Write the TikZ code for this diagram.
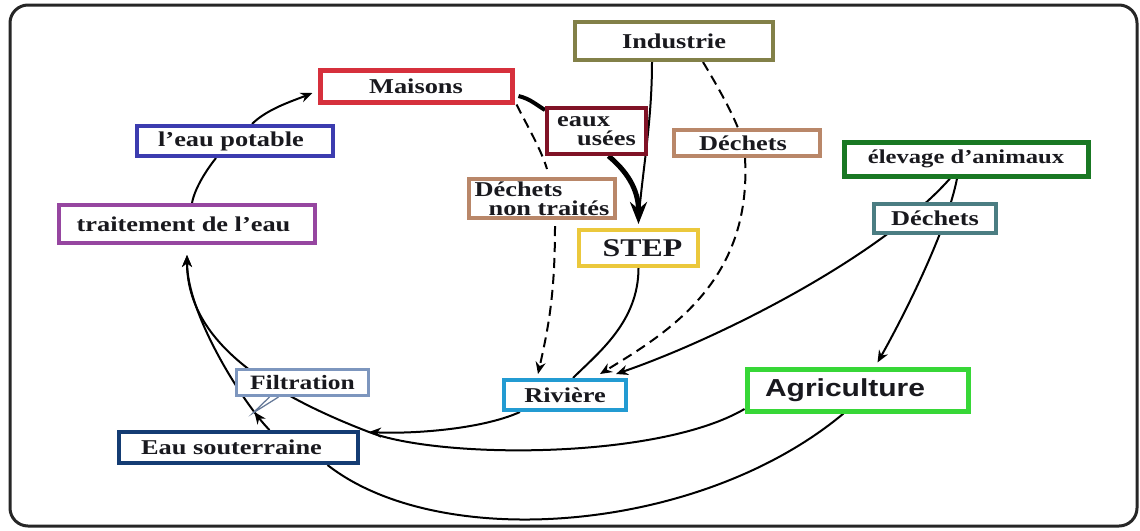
\documentclass[tikz,border=0pt]{standalone}
\usepackage{fontspec}
\setmainfont{Liberation Serif}[FakeStretch=1.25]
\newfontfamily\agrifont{Liberation Sans}[FakeStretch=1.22]
\usetikzlibrary{arrows.meta,calc,backgrounds,decorations.markings}
\definecolor{txt}{RGB}{25,25,30}
\definecolor{cind}{RGB}{130,128,72}
\definecolor{cmais}{RGB}{214,48,60}
\definecolor{ceaux}{RGB}{128,18,38}
\definecolor{cpot}{RGB}{60,60,175}
\definecolor{cdec}{RGB}{185,135,105}
\definecolor{celev}{RGB}{25,120,35}
\definecolor{cdecb}{RGB}{75,125,130}
\definecolor{ctrait}{RGB}{150,70,160}
\definecolor{cstep}{RGB}{235,200,60}
\definecolor{cfilt}{RGB}{125,150,190}
\definecolor{criv}{RGB}{35,155,210}
\definecolor{cagri}{RGB}{55,215,55}
\definecolor{ceau}{RGB}{20,60,115}
\tikzset{
  nbox/.style={draw, line width=0.8mm, fill=white, inner sep=0pt, text=txt,
    font=\bfseries\fontsize{12}{14}\selectfont},
  conn/.style={line width=0.4mm, draw=black},
  arr/.style={conn, -{Stealth[length=2.4mm,width=2mm]}},
  dconn/.style={conn, dash pattern=on 2mm off 1.2mm},
  darr/.style={dconn, -{Stealth[length=2.4mm,width=2mm]}},
  thickarr/.style={line width=1mm, draw=black, -{Stealth[length=4.4mm,width=3.4mm]}},
  pointer/.style={line width=0.25mm, draw=cfilt!80!black},
  midarr/.style={decoration={markings, mark=at position 0.12 with {\arrow{Stealth[length=2.4mm,width=2mm]}}}, postaction={decorate}}
}
\begin{document}
\begin{tikzpicture}[x=0.2mm,y=-0.2mm]
\useasboundingbox (0,0) rectangle (1140,530);

% nodes
\node[nbox, draw=cind, minimum width=39.6mm, minimum height=7.6mm] (ind) at (674,41) {Industrie};
\node[nbox, draw=cmais, line width=1mm, minimum width=38.4mm, minimum height=6.4mm] (mais) at (416,86) {Maisons};
\node[nbox, draw=ceaux, minimum width=19.8mm, minimum height=9.2mm, align=left,
      font=\bfseries\fontsize{12}{10.6}\selectfont] (eaux) at (596.5,131) {eaux\\\hspace*{4mm}usées};
\node[nbox, draw=cpot, minimum width=39.2mm, minimum height=6mm] (pot) at (235,141) {l'eau potable\hspace*{1.6mm}};
\node[nbox, draw=cdec, minimum width=29.2mm, minimum height=5.2mm] (dec) at (747,143) {Déchets\hspace*{1.6mm}};
\node[nbox, draw=celev, line width=1mm, minimum width=48.8mm, minimum height=6.8mm,
      font=\bfseries\fontsize{11.2}{13}\selectfont] (elev) at (966,159) {élevage d'animaux};
\node[nbox, draw=cdecb, minimum width=24.4mm, minimum height=5.8mm] (decb) at (935,218.5) {Déchets};
\node[nbox, draw=cdec, minimum width=29.2mm, minimum height=7.8mm, align=left,
      font=\bfseries\fontsize{12}{10.6}\selectfont] (dnt) at (542,198.5) {Déchets\\\hspace*{2.8mm}non traités};
\node[nbox, draw=ctrait, minimum width=51.2mm, minimum height=7.6mm] (trait) at (187,224) {traitement de l'eau\hspace*{1.4mm}};
\node[nbox, draw=cstep, minimum width=23.8mm, minimum height=7.2mm,
      font=\bfseries\fontsize{14.5}{16}\selectfont] (step) at (638.5,248) {\hspace*{1.6mm}STEP};
\node[nbox, draw=cfilt, line width=0.6mm, minimum width=26.4mm, minimum height=5.2mm,
      font=\bfseries\fontsize{11.6}{13}\selectfont] (filt) at (302.5,382.5) {Filtration};
\node[nbox, draw=criv, minimum width=24.4mm, minimum height=6mm] (riv) at (565,395) {Rivière};
\node[nbox, draw=cagri, line width=1mm, minimum width=44.2mm, minimum height=8.4mm,
      inner xsep=3.6mm, text width=37mm, align=left,
      font=\agrifont\bfseries\fontsize{14}{16}\selectfont] (agri) at (857.5,390) {Agriculture};
\node[nbox, draw=ceau, minimum width=47.8mm, minimum height=6.2mm] (eau) at (238.5,447.5) {Eau souterraine\hspace*{2.8mm}};

\coordinate (j) at (369,432);
\coordinate (fa) at (253,413);

\begin{pgfonlayer}{background}
\fill[white] (0,0) rectangle (1140,530);
% frame
\draw[line width=0.6mm, draw=black!85, rounded corners=3.6mm] (10,5) rectangle (1137,526);

% cycle: traitement -> eau potable -> maisons
\draw[conn] ($(trait.north)+(5,0)$) .. controls +(3,-16) and +(-8,10) .. ($(pot.south)+(-19,0)$);
\draw[arr] ($(pot.north)+(17,0)$) .. controls +(15,-15) and +(-20,8) .. ($(mais.west)+(-5,7)$);

% maisons -> eaux usees -> STEP
\draw[line width=0.8mm] ($(mais.east)+(4,10)$) .. controls +(12,3) and +(-10,-6) .. ($(eaux.north west)+(0,4)$);
\draw[conn] ($(ind.south)+(-22,0)$) .. controls +(0,60) and +(4,-50) .. ($(step.north)+(0,-8)$);
\draw[thickarr] ($(eaux.south)+(12,0)$) .. controls +(18,15) and +(0,-35) .. ($(step.north)+(0,-4)$);

% dashed: maisons -> dechets non traites -> riviere
\draw[dconn] ($(mais.south east)+(2,0)$) .. controls +(10,20) and +(-6,-20) .. ($(dnt.north)+(5,-8)$);
\draw[darr] ($(dnt.south)+(13,6)$) .. controls +(0,70) and +(10,-45) .. ($(riv.north)+(-27,-4)$);

% dashed: industrie -> dechets -> riviere
\draw[dconn] ($(ind.south)+(29,0)$) .. controls +(12,20) and +(-8,-20) .. ($(dec.north)+(-9,0)$);
\draw[darr] ($(dec.south)+(-2,0)$) .. controls +(7,124) and +(67,-41) .. ($(riv.north east)+(-28,-4)$);

% STEP -> riviere
\draw[conn] (step.south) .. controls +(0,54) and +(25,-25) .. ($(riv.north)+(8,0)$);

% elevage -> (dechets) -> riviere / agriculture
\draw[arr] ($(elev.south)+(-16,0)$) .. controls +(-70,79) and +(102,-35) .. ($(riv.north east)+(-12,-4)$);
\draw[arr] ($(elev.south)+(-9,0)$) .. controls +(-10,52) and +(25.5,-45) .. ($(agri.north)+(20,-4)$);

% riviere -> junction
\draw[arr] ($(riv.south west)+(18,0)$) .. controls +(-40,18) and +(40,2) .. (j);

% agriculture -> traitement
\draw[arr] ($(agri.west)+(0,19)$) .. controls +(-87,51) and +(70,27) .. (j)
   .. controls +(-120,-46) and +(0,77) .. ($(trait.south)+(0,10)$);

% eau souterraine -> traitement (filtration)
\draw[arr, midarr] ($(eau.north)+(31,0)$) .. controls +(-25,-25) and +(0,60) .. ($(trait.south)+(0,10)$);
\draw[pointer] ($(filt.south)+(-33,0)$) -- (fa) -- ($(filt.south)+(-24,0)$);

% agriculture -> eau souterraine
\draw[conn] ($(agri.south)+(-14,0)$) .. controls +(-143.5,120) and +(112.5,88) .. ($(eau.south)+(89,0)$);
\end{pgfonlayer}
\end{tikzpicture}
\end{document}
